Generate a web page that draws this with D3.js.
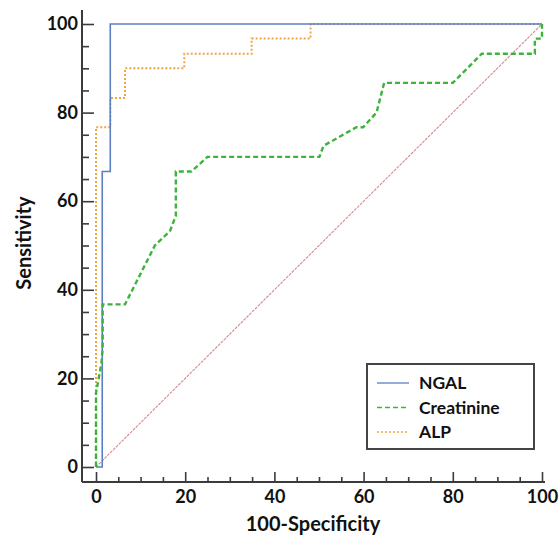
<!DOCTYPE html>
<meta charset="utf-8">
<html>
    <head>
        <title>ROC curves</title>
        <style>
            body { margin: 0; background: #fff; }
            text { font-family: Lato, "Open Sans", sans-serif; font-weight: 700; }
        </style>
    </head>
    <body>
        <div id="viz"></div>

        <script src="https://cdnjs.cloudflare.com/ajax/libs/d3/7.8.5/d3.min.js"></script>
        <script>
            // values (100-specificity, sensitivity)
            var ngalX = [0, 1.4, 1.4, 3.2, 3.2, 100];
            var ngalY = [0, 0, 66.7, 66.7, 100, 100];

            var creatX = [0, 0, 1.2, 1.5, 1.5, 6.5, 13.2, 16.6, 17.9, 17.9, 21.4, 25, 50.1, 51, 58.4, 59.9, 62.9, 64.6, 80, 86.5, 98.4, 98.4, 100, 100];
            var creatY = [0, 16.7, 23.3, 26.7, 36.7, 36.7, 50, 53.3, 56.7, 66.7, 66.7, 70, 70, 72.5, 76.7, 76.7, 80, 86.7, 86.7, 93.3, 93.3, 96.7, 96.7, 100];

            var alpX = [0, 0, 3.2, 3.2, 6.5, 6.5, 19.8, 19.8, 34.9, 34.9, 48.1, 48.1, 100];
            var alpY = [0, 76.7, 76.7, 83.3, 83.3, 90, 90, 93.3, 93.3, 96.7, 96.7, 100, 100];

            var refX = [0, 100];
            var refY = [0, 100];

            var majorTicks = [0, 20, 40, 60, 80, 100];
            var minorTicks = d3.range(0, 101, 5).filter(function (d) { return d % 20 != 0; });

            var seriesNames = ["NGAL", "Creatinine", "ALP"];

            var W = 560, H = 542;
            var svg = d3.select("#viz").append("svg")
                .attr("width", W)
                .attr("height", H);

            var x = d3.scaleLinear().domain([0, 100]).range([96, 542]);
            var y = d3.scaleLinear().domain([0, 100]).range([467, 24]);

            var axisColor = "#3b3b3b";
            var axisX0 = 82, axisY0 = 482;

            // x axis
            var gx = svg.append("g").attr("transform", "translate(0," + axisY0 + ")");
            gx.call(d3.axisBottom(x).tickValues(majorTicks).tickSize(-10).tickPadding(8).tickSizeOuter(0));
            gx.append("g").call(d3.axisBottom(x).tickValues(minorTicks).tickSize(-5).tickFormat(""));

            // y axis
            var gy = svg.append("g").attr("transform", "translate(" + axisX0 + ",0)");
            gy.call(d3.axisLeft(y).tickValues(majorTicks).tickSize(-12).tickPadding(4).tickSizeOuter(0));
            gy.append("g").call(d3.axisLeft(y).tickValues(minorTicks).tickSize(-7).tickFormat(""));

            svg.selectAll(".domain").remove();
            svg.selectAll(".tick line").attr("stroke", axisColor).attr("stroke-width", 1.6);
            svg.selectAll(".tick text").attr("fill", "#111").style("font-size", "18px");

            svg.append("line")
                .attr("x1", axisX0).attr("x2", 545)
                .attr("y1", axisY0).attr("y2", axisY0)
                .attr("stroke", axisColor).attr("stroke-width", 2);
            svg.append("line")
                .attr("x1", axisX0).attr("x2", axisX0)
                .attr("y1", 10).attr("y2", axisY0)
                .attr("stroke", axisColor).attr("stroke-width", 2);

            // axis titles
            svg.append("text")
                .attr("x", 313).attr("y", 531)
                .attr("text-anchor", "middle")
                .style("font-size", "20px")
                .attr("fill", "#111")
                .text("100-Specificity");
            svg.append("text")
                .attr("transform", "translate(31,243) rotate(-90)")
                .attr("text-anchor", "middle")
                .style("font-size", "20px")
                .attr("fill", "#111")
                .text("Sensitivity");

            var line = d3.line()
                .x(function (d) { return x(d[0]); })
                .y(function (d) { return y(d[1]); });

            function pairs(xs, ys) {
                return xs.map(function (v, i) { return [v, ys[i]]; });
            }

            // reference diagonal
            svg.append("path")
                .attr("d", line(pairs(refX, refY)))
                .attr("fill", "none")
                .attr("stroke", "#d08c8c")
                .attr("stroke-width", 1.1)
                .attr("stroke-dasharray", "3,1");

            var styles = [
                { color: "#5b7fc4", width: 1.6, dash: null },
                { color: "#3cb43c", width: 2.4, dash: "5,3" },
                { color: "#f0a640", width: 2, dash: "2,2" }
            ];
            var curves = [pairs(ngalX, ngalY), pairs(creatX, creatY), pairs(alpX, alpY)];

            // draw ALP under NGAL, creatinine on top
            [2, 0, 1].forEach(function (i) {
                svg.append("path")
                    .attr("d", line(curves[i]))
                    .attr("fill", "none")
                    .attr("stroke", styles[i].color)
                    .attr("stroke-width", styles[i].width)
                    .attr("stroke-dasharray", styles[i].dash);
            });

            // legend
            var lg = svg.append("g").attr("transform", "translate(367,364)");
            lg.append("rect")
                .attr("width", 167).attr("height", 85)
                .attr("fill", "#fff")
                .attr("stroke", "#444")
                .attr("stroke-width", 2);
            seriesNames.forEach(function (name, i) {
                var yy = 19 + i * 24.5;
                lg.append("line")
                    .attr("x1", 10).attr("x2", 42)
                    .attr("y1", yy).attr("y2", yy)
                    .attr("stroke", styles[i].color)
                    .attr("stroke-width", i == 1 ? 1.6 : 1.3)
                    .attr("stroke-dasharray", styles[i].dash);
                lg.append("text")
                    .attr("x", 52).attr("y", yy)
                    .attr("dy", "0.35em")
                    .style("font-size", "17.5px")
                    .attr("fill", "#111")
                    .text(name);
            });
        </script>
    </body>
</html>
